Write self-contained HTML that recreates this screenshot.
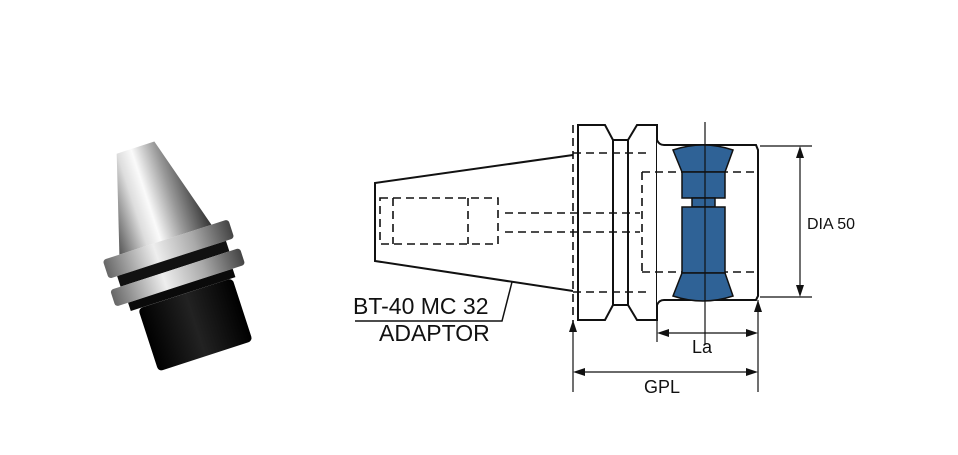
<!DOCTYPE html>
<html><head><style>
body{margin:0;background:#fff;width:958px;height:455px;overflow:hidden}
svg{display:block}
text{font-family:"Liberation Sans",Arial,sans-serif;fill:#111}
</style></head><body>
<svg width="958" height="455" viewBox="0 0 958 455">
<defs>
<linearGradient id="cone" x1="0" y1="0" x2="1" y2="0">
<stop offset="0" stop-color="#555"/><stop offset="0.3" stop-color="#ddd"/><stop offset="0.45" stop-color="#fafafa"/><stop offset="0.7" stop-color="#999"/><stop offset="1" stop-color="#333"/>
</linearGradient>
<linearGradient id="ring" x1="0" y1="0" x2="1" y2="0">
<stop offset="0" stop-color="#666"/><stop offset="0.4" stop-color="#eee"/><stop offset="0.7" stop-color="#aaa"/><stop offset="1" stop-color="#444"/>
</linearGradient>
<linearGradient id="blk" x1="0" y1="0" x2="1" y2="0">
<stop offset="0" stop-color="#000"/><stop offset="0.5" stop-color="#222"/><stop offset="1" stop-color="#000"/>
</linearGradient>
</defs>
<!-- photo -->
<g transform="translate(175 262) scale(1.1) rotate(-18) translate(-170 -262)">
<polygon points="150,152 186,152 212,240 124,240" fill="url(#cone)"/>
<rect x="108" y="240" width="120" height="18" rx="3" fill="url(#ring)"/>
<rect x="116" y="258" width="104" height="10" fill="#111"/>
<rect x="106" y="268" width="124" height="16" rx="3" fill="url(#ring)"/>
<rect x="118" y="284" width="100" height="8" fill="#0a0a0a"/>
<rect x="125" y="292" width="90" height="60" rx="4" fill="url(#blk)"/>
</g>
<g stroke="#111" fill="none" stroke-width="2">
<polyline points="573,155 375,183 375,261 573,291"/>
<polygon points="578,125 605,125 613,140 613,305 605,320 578,320" fill="#fff"/>
<line x1="613" y1="140" x2="628" y2="140"/><line x1="613" y1="305" x2="628" y2="305"/>
<line x1="628" y1="140" x2="628" y2="305"/>
<polygon points="637,125 657,125 657,320 637,320 628,305 628,140" fill="#fff"/>
<path d="M657,140 Q659,145 664,145 L756,145 L758,150 L758,296 L756,300 L664,300 Q659,300 657,305" fill="#fff"/>
</g>
<g stroke="#111" fill="none" stroke-width="1.6" stroke-dasharray="8,5">
<line x1="573" y1="125" x2="573" y2="322"/>
<line x1="573" y1="153" x2="650" y2="153"/><line x1="573" y1="292" x2="650" y2="292"/>
<line x1="505" y1="213" x2="640" y2="213"/><line x1="505" y1="232" x2="640" y2="232"/>
<line x1="642" y1="172" x2="758" y2="172"/><line x1="642" y1="272" x2="758" y2="272"/>
<line x1="642" y1="172" x2="642" y2="272"/>
<rect x="380" y="198" width="118" height="46"/>
<line x1="393" y1="198" x2="393" y2="244"/><line x1="468" y1="198" x2="468" y2="244"/>
</g>
<g fill="#2f6296" stroke="#111" stroke-width="1.5">
<path d="M673,150 Q703,140 733,150 L725,172 L682,172 Z"/>
<rect x="682" y="172" width="43" height="26"/>
<rect x="692" y="198" width="23" height="9"/>
<rect x="682" y="207" width="43" height="66"/>
<path d="M682,273 L725,273 L733,296 Q703,306 673,296 Z"/>
</g>
<g stroke="#111" stroke-width="1.2" fill="none">
<line x1="705" y1="122" x2="705" y2="345"/>
<line x1="573" y1="322" x2="573" y2="392"/>
<line x1="758" y1="300" x2="758" y2="392"/>
<line x1="657" y1="320" x2="657" y2="342"/>
<line x1="580" y1="372" x2="751" y2="372"/>
<line x1="664" y1="333" x2="751" y2="333"/>
<line x1="760" y1="146" x2="812" y2="146"/><line x1="760" y1="297" x2="812" y2="297"/>
<line x1="800" y1="153" x2="800" y2="290"/>
<polyline points="355,321 502,321 512,282" stroke-width="1.5"/>
</g>
<g fill="#111">
<polygon points="573,320 569,332 577,332"/>
<polygon points="758,300 754,312 762,312"/>
<polygon points="573,372 585,368 585,376"/><polygon points="758,372 746,368 746,376"/>
<polygon points="657,333 669,329 669,337"/><polygon points="758,333 746,329 746,337"/>
<polygon points="800,146 796,158 804,158"/><polygon points="800,297 796,285 804,285"/>
</g>
<text x="353" y="314" font-size="23">BT-40 MC 32</text>
<text x="379" y="341" font-size="23">ADAPTOR</text>
<text x="807" y="229" font-size="16">DIA 50</text>
<text x="692" y="353" font-size="18">La</text>
<text x="644" y="393" font-size="18">GPL</text>
</svg>
</body></html>
